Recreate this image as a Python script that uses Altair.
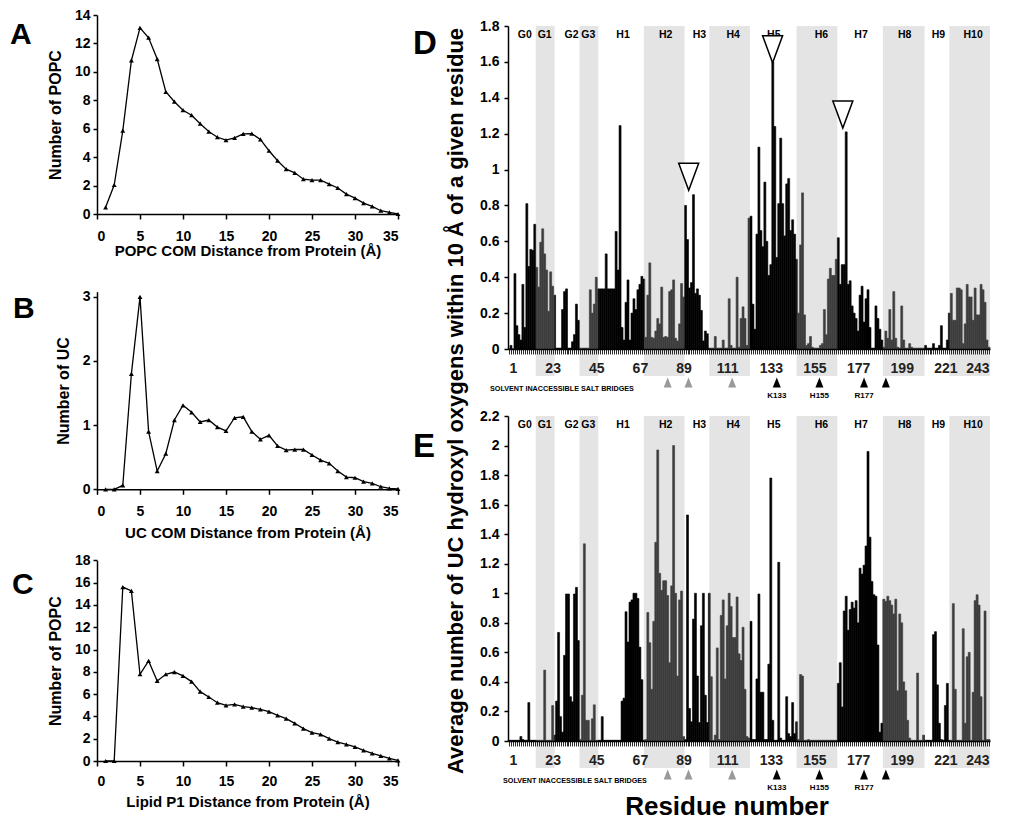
import altair as alt
import pandas as pd

FONT = "Liberation Sans"

# ---------------- data: panels A-C ----------------
distance = list(range(1, 36))
popc_com = [0.47, 2.04, 5.87, 10.8, 13.1, 12.4, 10.9, 8.6, 7.9, 7.3,
            6.95, 6.35, 5.8, 5.4, 5.2, 5.35, 5.63, 5.65, 5.25, 4.45,
            3.75, 3.15, 2.9, 2.45, 2.38, 2.38, 2.1, 1.83, 1.4, 1.12,
            0.77, 0.54, 0.23, 0.12, 0.0]
uc_com = [0.0, 0.0, 0.06, 1.8, 3.0, 0.9, 0.285, 0.555, 1.08, 1.31,
          1.2, 1.05, 1.08, 0.97, 0.91, 1.115, 1.13, 0.9, 0.78, 0.84,
          0.675, 0.61, 0.62, 0.62, 0.535, 0.455, 0.405, 0.285, 0.19, 0.18,
          0.12, 0.093, 0.04, 0.015, 0.005]
lipid_p1 = [0.0, 0.0, 15.6, 15.25, 7.78, 8.97, 7.18, 7.78, 7.98, 7.63,
            7.12, 6.22, 5.74, 5.23, 4.99, 5.08, 4.87, 4.78, 4.63, 4.43,
            4.1, 3.8, 3.38, 2.9, 2.54, 2.39, 2.0, 1.7, 1.5, 1.26,
            0.96, 0.69, 0.45, 0.24, 0.06]

# ---------------- data: panels D-E ----------------
residues = list(range(1, 244))
uc_popc = [
    0.0, 0.02, 0.0, 0.42, 0.13, 0.08, 0.05, 0.36, 0.12, 0.81,
    0.46, 0.555, 0.55, 0.695, 0.455, 0.345, 0.595, 0.67, 0.53, 0.44,
    0.21, 0.43, 0.35, 0.30, 0.005, 0.005, 0.005, 0.22, 0.32, 0.335,
    0.005, 0.005, 0.04, 0.08, 0.25, 0.16, 0.005, 0.005, 0.005, 0.005,
    0.005, 0.33, 0.2, 0.25, 0.4, 0.335, 0.335, 0.335, 0.335, 0.53,
    0.335, 0.335, 0.335, 0.335, 0.655, 0.44, 1.245, 0.12, 0.05, 0.26,
    0.385, 0.05, 0.2, 0.28, 0.22, 0.33, 0.36, 0.405, 0.39, 0.065,
    0.3, 0.48, 0.065, 0.06, 0.1, 0.17, 0.14, 0.345, 0.065, 0.07,
    0.065, 0.32, 0.33, 0.385, 0.06, 0.045, 0.14, 0.365, 0.29, 0.8,
    0.61, 0.34, 0.37, 0.86, 0.31, 0.335, 0.3, 0.215, 0.045, 0.1,
    0.085, 0.005, 0.005, 0.005, 0.07, 0.005, 0.005, 0.005, 0.05, 0.005,
    0.005, 0.28, 0.02, 0.005, 0.005, 0.4, 0.01, 0.17, 0.235, 0.17,
    0.02, 0.73, 0.74, 0.25, 0.11, 0.64, 1.125, 0.66, 0.57, 0.93,
    0.6, 0.41, 0.47, 1.6, 1.24, 0.51, 0.81, 1.175, 0.81, 0.63,
    0.92, 0.95, 0.66, 0.72, 0.64, 0.5, 0.2, 0.58, 0.87, 0.19,
    0.02, 0.03, 0.07, 0.01, 0.005, 0.005, 0.005, 0.02, 0.03, 0.22,
    0.08, 0.39, 0.45, 0.41, 0.41, 0.5, 0.62, 0.36, 0.47, 0.47,
    1.21, 0.36, 0.38, 0.24, 0.2, 0.17, 0.1, 0.3, 0.35, 0.15,
    0.28, 0.33, 0.12, 0.005, 0.005, 0.24, 0.17, 0.11, 0.05, 0.01,
    0.1, 0.06, 0.22, 0.05, 0.32, 0.06, 0.01, 0.005, 0.24, 0.05,
    0.005, 0.005, 0.03, 0.01, 0.005, 0.005, 0.005, 0.005, 0.005, 0.005,
    0.02, 0.005, 0.005, 0.005, 0.03, 0.005, 0.005, 0.02, 0.13, 0.005,
    0.005, 0.05, 0.2, 0.31, 0.16, 0.16, 0.34, 0.34, 0.33, 0.03,
    0.14, 0.36, 0.29, 0.29, 0.16, 0.34, 0.19, 0.19, 0.36, 0.33,
    0.26, 0.05, 0.01]
uc_mixed = [
    0.005, 0.005, 0.005, 0.005, 0.005, 0.005, 0.03, 0.01, 0.005, 0.005,
    0.26, 0.005, 0.005, 0.005, 0.005, 0.005, 0.005, 0.005, 0.48, 0.005,
    0.005, 0.005, 0.24, 0.04, 0.27, 0.735, 0.165, 0.06, 0.58, 0.995,
    0.995, 0.3, 0.265, 0.995, 1.04, 0.68, 0.01, 0.31, 1.335, 0.14,
    0.14, 0.005, 0.15, 0.245, 0.005, 0.005, 0.005, 0.165, 0.005, 0.005,
    0.005, 0.005, 0.005, 0.005, 0.005, 0.005, 0.005, 0.27, 0.29, 0.875,
    0.67, 0.94, 0.955, 1.0, 1.0, 0.965, 0.635, 0.415, 0.005, 0.01,
    0.87, 0.665, 0.35, 0.81, 1.345, 1.97, 1.135, 1.02, 1.085, 1.085,
    0.985, 0.53, 1.05, 2.0, 1.0, 0.44, 0.955, 1.015, 0.03, 0.01,
    1.53, 0.22, 0.13, 0.825, 1.0, 0.44, 0.125, 0.78, 1.0, 0.31,
    0.125, 1.0, 0.435, 0.005, 0.04, 0.63, 0.01, 0.85, 0.955, 0.42,
    0.78, 1.0, 0.91, 0.7, 0.7, 0.975, 0.59, 0.545, 0.77, 0.35,
    0.03, 0.02, 0.81, 0.01, 0.01, 0.42, 0.995, 0.33, 0.33, 0.01,
    0.01, 0.52, 1.78, 0.14, 0.005, 0.005, 1.21, 0.02, 0.005, 0.005,
    0.3, 0.05, 0.03, 0.26, 0.05, 0.13, 0.01, 0.45, 0.44, 0.005,
    0.005, 0.01, 0.005, 0.005, 0.005, 0.005, 0.005, 0.005, 0.005, 0.005,
    0.005, 0.005, 0.005, 0.005, 0.005, 0.005, 0.39, 0.53, 0.23, 0.88,
    0.98, 0.75, 0.89, 0.94, 0.9, 0.95, 0.8, 1.17, 1.13, 1.19,
    1.32, 1.96, 1.38, 1.08, 0.99, 0.98, 0.65, 0.06, 0.12, 0.96,
    0.945, 0.98, 0.95, 0.92, 0.86, 0.96, 0.34, 0.86, 0.8, 0.4,
    0.34, 0.14, 0.02, 0.005, 0.005, 0.005, 0.46, 0.005, 0.005, 0.04,
    0.005, 0.005, 0.005, 0.005, 0.72, 0.74, 0.38, 0.12, 0.01, 0.005,
    0.24, 0.39, 0.005, 0.005, 0.93, 0.35, 0.005, 0.005, 0.005, 0.76,
    0.12, 0.57, 0.6, 0.005, 0.33, 0.95, 0.99, 0.92, 0.3, 0.005,
    0.88, 0.01, 0.01]
assert len(uc_popc) == 243 and len(uc_mixed) == 243

band_start = [14.5, 36.5, 69, 102, 146, 189.5, 223]
band_end = [24, 46, 89.5, 122.5, 166.5, 210.5, 243.5]
seg_names = ["G0", "G1", "G2", "G3", "H1", "H2", "H3", "H4", "H5", "H6",
             "H7", "H8", "H9", "H10"]
seg_pos = [9, 19, 32.5, 41, 58.5, 80, 97, 114, 134.5, 158.5, 178.5, 200.5,
           217.5, 235]
labelled_residues = [1, 23, 45, 67, 89, 111, 133, 155, 177, 199, 221, 243]
salt_pos = [81, 91.5, 113.5, 136, 157.5, 180, 191]
salt_kind = ["grey", "grey", "grey", "black", "black", "black", "black"]
salt_label_pos = [136, 157.5, 180]
salt_label = ["K133", "H155", "R177"]
open_marker_res = [91.6, 133.9, 169.3]
open_marker_val = [0.96, 1.67, 1.307]

W_LEFT, H_LEFT = 301, 746
W_RIGHT, H_RIGHT = 482, 726


def text_at(t, lx, ly, size, **kw):
    return alt.Chart(pd.DataFrame({"t": [t]})).mark_text(
        font=FONT, fontSize=size, fontWeight="bold", color="black", **kw
    ).encode(text="t:N", x=alt.value(lx), y=alt.value(ly))


def line_group(vals, xtitle, ytitle, ymax, yticks, y_range, x_offset,
               lab_pad, title_pad):
    df = pd.DataFrame({"d": distance, "v": vals})
    xax = alt.Axis(orient="bottom", offset=x_offset,
                   values=list(range(0, 36, 5)), title=xtitle, tickSize=5,
                   labelPadding=lab_pad, titlePadding=title_pad,
                   labelFontSize=14, titleFontSize=15, domainWidth=1.5,
                   tickWidth=1.5, labelFontWeight="bold",
                   titleFontWeight="bold", grid=False)
    yax = alt.Axis(orient="left", values=yticks, title=ytitle, tickSize=4,
                   labelPadding=3, titlePadding=11, labelFontSize=14,
                   titleFontSize=16, domainWidth=1.5, tickWidth=1.5,
                   labelFontWeight="bold", titleFontWeight="bold", grid=False)
    xs = alt.Scale(domain=[0, 35], nice=False)
    ys = alt.Scale(domain=[0, ymax], nice=False, range=y_range)
    base = alt.Chart(df)
    line = base.mark_line(color="black", strokeWidth=1.3).encode(
        x=alt.X("d:Q", scale=xs, axis=xax),
        y=alt.Y("v:Q", scale=ys, axis=yax))
    pts = base.mark_point(shape="triangle-up", filled=True, color="black",
                          size=24, opacity=1).encode(
        x=alt.X("d:Q", scale=xs, axis=xax),
        y=alt.Y("v:Q", scale=ys, axis=yax))
    return alt.layer(line, pts)


def bar_group(vals, ymax, top, bottom, x_offset, solvent_x, with_markers):
    df = pd.DataFrame({"r": residues, "v": vals})
    xs = alt.Scale(domain=[0.5, 243.5], nice=False, zero=False)
    ys = alt.Scale(domain=[0, ymax], nice=False, range=[bottom, top])
    lab_list = ",".join(str(v) for v in labelled_residues)
    xax = alt.Axis(orient="bottom", offset=x_offset, values=residues,
                   labelExpr=f"indexof([{lab_list}], datum.value) >= 0 ? datum.label : ''",
                   labelOverlap=False, tickSize=5, tickColor="#2a2a2a",
                   tickWidth=1, domainColor="black", domainWidth=1.5,
                   labelFontSize=14, labelColor="#222222", labelPadding=7,
                   labelFontWeight="bold", title=None, zindex=1, grid=False)
    yticks = [round(0.2 * i, 1) for i in range(int(round(ymax / 0.2)) + 1)]
    yax = alt.Axis(orient="left", values=yticks, format="~g", title=None,
                   tickSize=4, labelPadding=5, labelFontSize=14,
                   labelFontWeight="bold", domainWidth=1.5, tickWidth=1.5,
                   grid=False)

    bars = alt.Chart(df).transform_calculate(
        r0="datum.r - 0.5", r1="datum.r + 0.5"
    ).mark_rect(color="black", stroke="black", strokeWidth=0.6).encode(
        x=alt.X("r0:Q", scale=xs, axis=xax), x2="r1:Q",
        y=alt.Y("v:Q", scale=ys, axis=yax), y2=alt.datum(0))

    bands = alt.Chart(pd.DataFrame({"s": band_start, "e": band_end})).mark_rect(
        color="#b0b0b0", opacity=0.34).encode(
        x=alt.X("s:Q", scale=xs, axis=xax), x2="e:Q",
        y=alt.value(top), y2=alt.value(bottom + 27))

    segs = alt.Chart(pd.DataFrame({"p": seg_pos, "n": seg_names})).mark_text(
        font=FONT, fontSize=10.5, fontWeight="bold", color="black",
        baseline="middle").encode(
        x=alt.X("p:Q", scale=xs, axis=xax), y=alt.value(top + 8.5), text="n:N")

    salt = alt.Chart(pd.DataFrame({"p": salt_pos, "k": salt_kind})).mark_point(
        shape="M0,-1L0.8,1L-0.8,1Z", size=100, filled=True, opacity=1
    ).encode(
        x=alt.X("p:Q", scale=xs, axis=xax), y=alt.value(bottom + 33.5),
        color=alt.Color("k:N", scale=alt.Scale(domain=["grey", "black"],
                                               range=["#9a9a9a", "#000000"]),
                        legend=None))
    salt_lab = alt.Chart(pd.DataFrame({"p": salt_label_pos, "t": salt_label})).mark_text(
        font=FONT, fontSize=8, fontWeight="bold", color="black",
        baseline="middle").encode(
        x=alt.X("p:Q", scale=xs, axis=xax), y=alt.value(bottom + 47),
        text="t:N")
    solvent = text_at("SOLVENT INACCESSIBLE SALT BRIDGES", solvent_x,
                      bottom + 40, 7.2, align="left", baseline="middle")

    layers = [bars, bands, segs, salt, salt_lab, solvent]
    if with_markers:
        mk = alt.Chart(pd.DataFrame({"p": open_marker_res, "v": open_marker_val})).mark_point(
            shape="M-0.74,-1L0.74,-1L0,1Z", size=729, fill="white",
            fillOpacity=1, stroke="black", strokeWidth=1.5, opacity=1
        ).encode(x=alt.X("p:Q", scale=xs, axis=xax),
                 y=alt.Y("v:Q", scale=ys, axis=yax))
        layers.append(mk)
    return alt.layer(*layers)


A = line_group(popc_com, "POPC COM Distance from Protein (Å)", "Number of POPC",
               14, list(range(0, 15, 2)), [199, 0], -547, 10, 0)
B = line_group(uc_com, "UC COM Distance from Protein (Å)", "Number of UC",
               3.08, [0, 1, 2, 3], [474.3, 276.7], -271.7, 10, 7)
C = line_group(lipid_p1, "Lipid P1 Distance from Protein (Å)", "Number of POPC",
               18, list(range(0, 19, 2)), [746, 545.3], 0, 8, 6)

left = alt.layer(
    A, B, C,
    text_at("A", -87, 29, 30, align="left", baseline="alphabetic"),
    text_at("B", -84, 303, 30, align="left", baseline="alphabetic"),
    text_at("C", -85, 579, 30, align="left", baseline="alphabetic"),
).resolve_scale(x="independent", y="independent").resolve_axis(
    x="independent", y="independent").properties(width=W_LEFT, height=H_LEFT)

D = bar_group(uc_popc, 1.8, 11, 334, -(H_RIGHT - 334), -18, True)
E = bar_group(uc_mixed, 2.2, 401, 726, 0, -5, False)

right = alt.layer(
    D, E,
    text_at("D", -95, 39, 33, align="left", baseline="alphabetic"),
    text_at("E", -95, 442, 33, align="left", baseline="alphabetic"),
    text_at("Average number of UC hydroxyl oxygens within 10 Å of a given residue",
            -45, 386, 22, angle=270, align="center", baseline="alphabetic"),
    text_at("Residue number", 219, 792, 26, align="center", baseline="middle"),
).resolve_scale(x="independent", y="independent").resolve_axis(
    x="independent", y="independent").properties(width=W_RIGHT, height=H_RIGHT)

chart = alt.hconcat(left, right, spacing=110, bounds="flush").properties(
    padding={"left": 2, "top": 0, "right": 0, "bottom": 0}
).configure_view(stroke=None).configure_axis(
    labelFont=FONT, titleFont=FONT, labelFontWeight="bold",
    titleFontWeight="bold", labelColor="black", titleColor="black",
    domainColor="black", tickColor="black", grid=False
)

chart.save("out.html", embed_options={"renderer": "svg", "actions": False})
